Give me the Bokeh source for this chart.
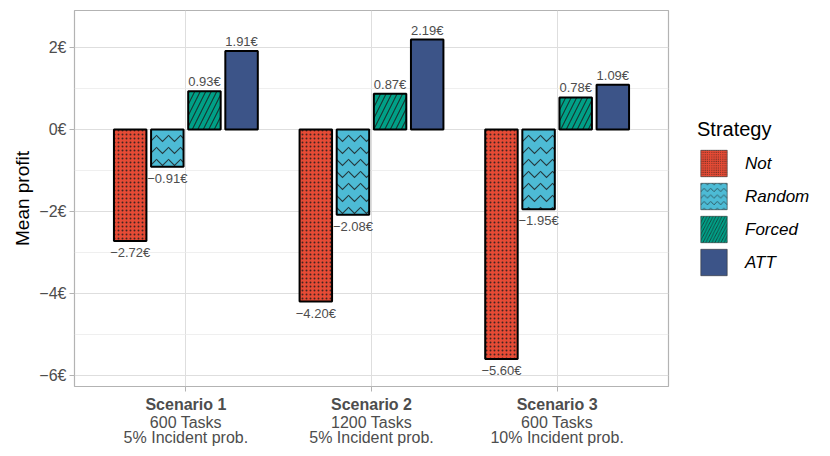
from bokeh.plotting import figure
from bokeh.models import (ColumnDataSource, FixedTicker, LinearAxis, Legend, LegendItem,
                          CustomJSTickFormatter, Range1d)
from bokeh.core.properties import value
from bokeh.embed import file_html
from bokeh.resources import INLINE

scenario_titles = ["Scenario 1", "Scenario 2", "Scenario 3"]
scenario_tasks = ["600 Tasks", "1200 Tasks", "600 Tasks"]
scenario_probs = ["5% Incident prob.", "5% Incident prob.", "10% Incident prob."]
strategies = ["Not", "Random", "Forced", "ATT"]
not_vals = [-2.72, -4.20, -5.60]
random_vals = [-0.91, -2.08, -1.95]
forced_vals = [0.93, 0.87, 0.78]
att_vals = [1.91, 2.19, 1.09]
y_ticks = [-6, -4, -2, 0, 2]
y_minor = [-5, -3, -1, 1]

series = [not_vals, random_vals, forced_vals, att_vals]
colors = ["#E64B35", "#4DBBD5", "#00A087", "#3C5488"]
hatches = ["dot", "horizontal_wave", "right_diagonal_line", "blank"]
hscale = [4, 12, 11, 10]
offsets = [-0.3, -0.1, 0.1, 0.3]
FONT = "Liberation Sans"
GREY = "#4D4D4D"

p = figure(frame_width=594, frame_height=376, output_backend="svg", toolbar_location=None,
           x_range=Range1d(0.4, 3.6), y_range=Range1d(-6.27, 2.90),
           x_axis_location=None, min_border_left=74, min_border_right=140,
           min_border_top=10, min_border_bottom=54)
p.background_fill_color = "white"
p.border_fill_color = "white"
p.outline_line_color = "#B3B3B3"
p.outline_line_width = 1.2

# y axis
p.yaxis.ticker = FixedTicker(ticks=y_ticks, minor_ticks=y_minor)
p.yaxis.formatter = CustomJSTickFormatter(code="return (tick < 0 ? '\u2212' + (-tick) : '' + tick) + '\u20ac';")
p.yaxis.axis_line_color = None
p.yaxis.major_tick_line_color = "#B3B3B3"
p.yaxis.major_tick_out = 5
p.yaxis.major_tick_in = 0
p.yaxis.minor_tick_line_color = None
p.yaxis.major_label_text_font = FONT
p.yaxis.major_label_text_font_size = "16px"
p.yaxis.major_label_text_color = GREY
p.yaxis.major_label_standoff = 3
p.yaxis.axis_label = "Mean profit"
p.yaxis.axis_label_text_font = FONT
p.yaxis.axis_label_text_font_size = "19px"
p.yaxis.axis_label_text_font_style = "normal"
p.yaxis.axis_label_text_color = "black"
p.yaxis.axis_label_standoff = 3
p.ygrid.grid_line_color = "#DEDEDE"
p.ygrid.grid_line_width = 1
p.ygrid.minor_grid_line_color = "#EBEBEB"
p.ygrid.minor_grid_line_width = 0.8

# x grid + stacked x axes
xt = [1, 2, 3]
p.xgrid.ticker = FixedTicker(ticks=xt, minor_ticks=[])
p.xgrid.grid_line_color = "#DEDEDE"
p.xgrid.grid_line_width = 1

lines = [scenario_titles, scenario_tasks, scenario_probs]
standoffs = [4, -2, -5]
for k, labels in enumerate(lines):
    ax = LinearAxis(ticker=FixedTicker(ticks=xt, minor_ticks=[]),
                    major_label_overrides={t: lab for t, lab in zip(xt, labels)})
    ax.axis_line_color = None
    ax.minor_tick_line_color = None
    ax.major_label_text_font = FONT
    ax.major_label_text_font_size = "16px"
    ax.major_label_text_color = GREY
    ax.major_label_standoff = standoffs[k]
    if k == 0:
        ax.major_tick_line_color = "#B3B3B3"
        ax.major_tick_out = 5
        ax.major_tick_in = 0
        ax.major_label_text_font_style = "bold"
    else:
        ax.major_tick_line_color = None
        ax.major_tick_out = 0
        ax.major_tick_in = 0
    p.add_layout(ax, "below")

def fmt(v):
    return f"{v:.2f}\u20ac".replace("-", "\u2212")

# bars
legend_items = []
for i, (name, vals) in enumerate(zip(strategies, series)):
    xs = [j + 1 + offsets[i] for j in range(len(vals))]
    src = ColumnDataSource(dict(x=xs, top=vals))
    p.vbar(x="x", top="top", bottom=0, width=0.175, source=src,
           fill_color=colors[i], line_color="black", line_width=2,
           hatch_pattern=hatches[i], hatch_color="#1a1a1a", hatch_alpha=0.8,
           hatch_scale=hscale[i], hatch_weight=1.1)
    dummy = p.vbar(x="x", top="top", bottom=0, width=0.175, source=src,
                   fill_color=colors[i], line_color="#333333", line_width=0.6,
                   hatch_pattern=hatches[i], hatch_color="#1a1a1a", hatch_alpha=0.75,
                   hatch_scale=hscale[i] * 0.55, hatch_weight=0.8, visible=False)
    legend_items.append(LegendItem(label=name, renderers=[dummy]))

    pos = [(x, v) for x, v in zip(xs, vals) if v >= 0]
    neg = [(x, v) for x, v in zip(xs, vals) if v < 0]
    if pos:
        s = ColumnDataSource(dict(x=[a for a, _ in pos], y=[b for _, b in pos], t=[fmt(b) for _, b in pos]))
        p.text(x="x", y="y", text="t", source=s, text_align="center", text_baseline="bottom",
               y_offset=-2, text_font=value(FONT), text_font_size="13px", text_color=GREY)
    if neg:
        s = ColumnDataSource(dict(x=[a for a, _ in neg], y=[b for _, b in neg], t=[fmt(b) for _, b in neg]))
        p.text(x="x", y="y", text="t", source=s, text_align="center", text_baseline="top",
               y_offset=4, text_font=value(FONT), text_font_size="13px", text_color=GREY)

legend = Legend(items=legend_items, location="center_left", title="Strategy")
legend.title_text_font = FONT
legend.title_text_font_size = "20px"
legend.title_text_font_style = "normal"
legend.title_text_color = "black"
legend.title_standoff = 6
legend.label_text_font = FONT
legend.label_text_font_size = "17px"
legend.label_text_font_style = "italic"
legend.label_text_color = "black"
legend.glyph_width = 33
legend.glyph_height = 33
legend.label_height = 33
legend.spacing = 0
legend.label_standoff = 15
legend.padding = 6
legend.margin = 29
legend.border_line_color = None
legend.background_fill_alpha = 0
legend.inactive_fill_alpha = 0
p.add_layout(legend, "right")

open("out.html", "w").write(file_html(p, INLINE))
